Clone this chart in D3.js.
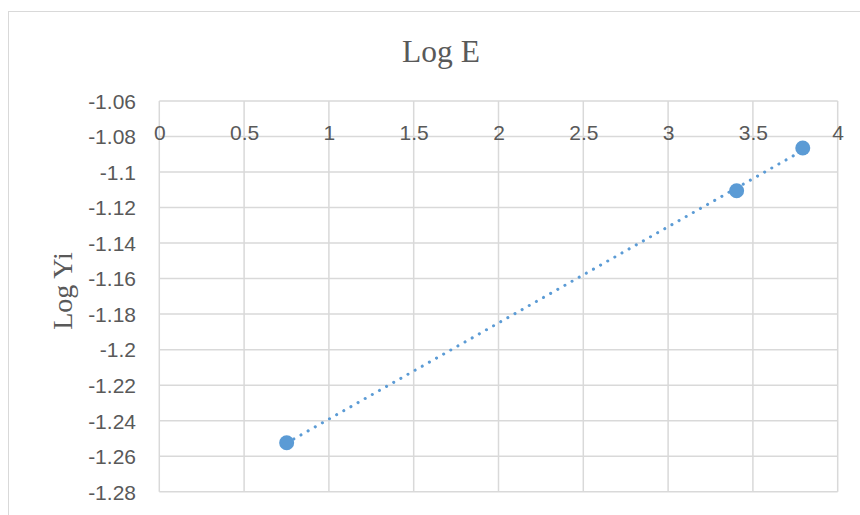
<!DOCTYPE html>
<html>
<head>
<meta charset="utf-8">
<script src="https://cdn.jsdelivr.net/npm/d3@7"></script>
<style>
  html, body { margin: 0; padding: 0; background: #fff; }
  svg { display: block; }
</style>
</head>
<body>
<svg id="chart" width="860" height="515"></svg>
<script>
// Data
const xValues = [0.751, 3.404, 3.794];
const yValues = [-1.2524, -1.1105, -1.0865];
const xTicks = [0, 0.5, 1, 1.5, 2, 2.5, 3, 3.5, 4];
const yTicks = [-1.06, -1.08, -1.1, -1.12, -1.14, -1.16, -1.18, -1.2, -1.22, -1.24, -1.26, -1.28];
const titleText = "Log E";
const yLabelText = "Log Yi";

const svg = d3.select("#chart");
const plot = { left: 159.3, right: 837.7, top: 101, bottom: 491.7 };

const x = d3.scaleLinear().domain([0, 4]).range([plot.left, plot.right]);
const y = d3.scaleLinear().domain([-1.28, -1.06]).range([plot.bottom, plot.top]);

// chart area border
svg.append("rect")
  .attr("x", 8.5).attr("y", 11.5)
  .attr("width", 900).attr("height", 600)
  .attr("fill", "#fff").attr("stroke", "#d9d9d9").attr("stroke-width", 1);

// gridlines
const grid = svg.append("g");
grid.selectAll("line.h").data(yTicks).enter().append("line")
  .attr("x1", plot.left).attr("x2", plot.right)
  .attr("y1", d => y(d)).attr("y2", d => y(d))
  .attr("stroke", "#d9d9d9").attr("stroke-width", 1.5);
grid.selectAll("line.v").data(xTicks).enter().append("line")
  .attr("y1", plot.top).attr("y2", plot.bottom)
  .attr("x1", d => x(d)).attr("x2", d => x(d))
  .attr("stroke", "#d9d9d9").attr("stroke-width", 1.5);

const tickFont = "'Liberation Sans', Arial, sans-serif";

// Y axis tick labels
const yAxis = d3.axisLeft(y).tickValues(yTicks).tickSize(0).tickPadding(0)
  .tickFormat(d => String(+d.toFixed(2)));
const gy = svg.append("g").attr("transform", `translate(136,0)`).call(yAxis);
gy.select(".domain").remove();
gy.selectAll("text")
  .attr("font-family", tickFont)
  .attr("font-size", 21).attr("fill", "#595959")
  .attr("dy", "0.35em").attr("x", 0);

// X axis tick labels (placed below the top axis line)
const xAxis = d3.axisBottom(x).tickValues(xTicks).tickSize(0).tickPadding(0)
  .tickFormat(d => String(d));
const gx = svg.append("g").attr("transform", `translate(0,${plot.top})`).call(xAxis);
gx.select(".domain").remove();
gx.selectAll("text")
  .attr("font-family", tickFont)
  .attr("font-size", 21).attr("fill", "#595959")
  .attr("dy", 0).attr("y", 38.5);

// Linear trendline (least squares) over data range
const n = xValues.length;
const mx = d3.mean(xValues), my = d3.mean(yValues);
let sxy = 0, sxx = 0;
for (let i = 0; i < n; i++) {
  sxy += (xValues[i] - mx) * (yValues[i] - my);
  sxx += (xValues[i] - mx) ** 2;
}
const slope = sxy / sxx, intercept = my - slope * mx;
const x0 = d3.min(xValues), x1 = d3.max(xValues);
const trend = [[x0, slope * x0 + intercept], [x1, slope * x1 + intercept]];
svg.append("path")
  .attr("d", d3.line().x(d => x(d[0])).y(d => y(d[1]))(trend))
  .attr("fill", "none").attr("stroke", "#5b9bd5")
  .attr("stroke-width", 3).attr("stroke-linecap", "round")
  .attr("stroke-dasharray", "0.1 8.1");

// markers
svg.selectAll("circle.pt").data(xValues.map((v, i) => [v, yValues[i]])).enter().append("circle")
  .attr("cx", d => x(d[0])).attr("cy", d => y(d[1])).attr("r", 7.5)
  .attr("fill", "#5b9bd5");

// title
svg.append("text")
  .attr("x", 441).attr("y", 62)
  .attr("text-anchor", "middle")
  .attr("font-family", "'Liberation Serif', 'Times New Roman', serif")
  .attr("font-size", 31.5).attr("fill", "#595959")
  .text(titleText);

// y label
svg.append("text")
  .attr("transform", "translate(72,291) rotate(-90)")
  .attr("text-anchor", "middle")
  .attr("font-family", "'Liberation Serif', 'Times New Roman', serif")
  .attr("font-size", 28).attr("fill", "#595959")
  .text(yLabelText);
</script>
</body>
</html>
